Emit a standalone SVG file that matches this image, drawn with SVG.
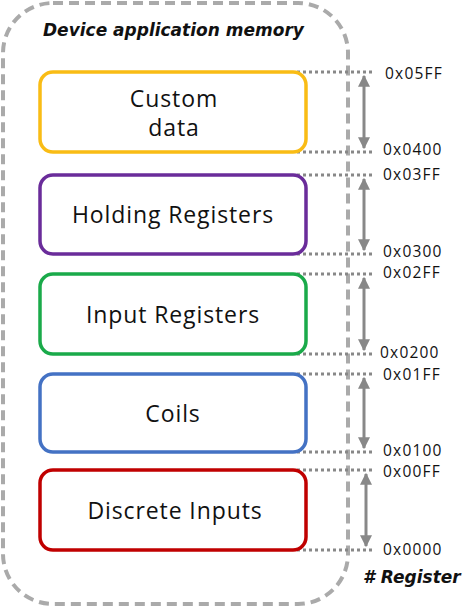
<svg xmlns="http://www.w3.org/2000/svg" width="474" height="608" viewBox="0 0 474 608">
<style>
.box{fill:#fff;stroke-width:3.5}
.lbl{font-family:"Open Sans","DejaVu Sans",sans-serif;font-size:23px;letter-spacing:0.9px;fill:#111;text-anchor:middle;dominant-baseline:central}
.addr{font-family:"Open Sans","DejaVu Sans",sans-serif;font-size:15.5px;letter-spacing:1.2px;fill:#111;dominant-baseline:central}
.bi{font-family:"DejaVu Sans",sans-serif;font-weight:bold;font-style:italic;font-size:17px;fill:#111;dominant-baseline:central}
.dot{stroke:#888;stroke-width:3;stroke-dasharray:3 3;fill:none}
.arr{stroke:#888;stroke-width:3;fill:none;marker-start:url(#ah);marker-end:url(#ah)}
</style>
<defs>
<marker id="ah" viewBox="0 0 10 10" refX="9" refY="5" markerWidth="4" markerHeight="4" orient="auto-start-reverse" markerUnits="strokeWidth">
<path d="M0,0 L10,5 L0,10 z" fill="#888"/>
</marker>
</defs>
<rect id="container" x="3" y="3" width="345" height="601" rx="50" ry="50" fill="none" stroke="#aaa" stroke-width="4" stroke-dasharray="10 6"/>
<text class="bi" x="43" y="30">Device application memory</text>
<g id="connectors">
<line class="dot" x1="297" y1="72" x2="372" y2="72"/>
<line class="dot" x1="297" y1="152" x2="372" y2="152"/>
<line class="arr" x1="364" y1="76" x2="364" y2="148"/>
<line class="dot" x1="297" y1="175" x2="372" y2="175"/>
<line class="dot" x1="297" y1="254" x2="372" y2="254"/>
<line class="arr" x1="364" y1="179" x2="364" y2="250"/>
<line class="dot" x1="297" y1="274" x2="372" y2="274"/>
<line class="dot" x1="297" y1="354" x2="372" y2="354"/>
<line class="arr" x1="364" y1="278" x2="364" y2="350"/>
<line class="dot" x1="297" y1="374" x2="372" y2="374"/>
<line class="dot" x1="297" y1="452" x2="372" y2="452"/>
<line class="arr" x1="364" y1="378" x2="364" y2="448"/>
<line class="dot" x1="297" y1="470" x2="372" y2="470"/>
<line class="dot" x1="297" y1="550" x2="372" y2="550"/>
<line class="arr" x1="366" y1="474" x2="366" y2="546"/>
</g>
<g id="custom">
<rect class="box" x="40" y="72" width="266" height="80" rx="13" stroke="#f9bc15"/>
<text class="lbl" x="174" y="98">Custom</text>
<text class="lbl" x="174" y="127">data</text>
</g>
<g id="holding">
<rect class="box" x="40" y="175" width="266" height="79" rx="13" stroke="#6a2c9a"/>
<text class="lbl" x="173" y="214">Holding Registers</text>
</g>
<g id="input">
<rect class="box" x="40" y="274" width="266" height="80" rx="13" stroke="#1aaa4a"/>
<text class="lbl" x="173" y="314">Input Registers</text>
</g>
<g id="coils">
<rect class="box" x="40" y="374" width="266" height="78" rx="13" stroke="#4472c4"/>
<text class="lbl" x="173" y="413">Coils</text>
</g>
<g id="discrete">
<rect class="box" x="40" y="470" width="266" height="80" rx="13" stroke="#c00000"/>
<text class="lbl" x="175" y="510">Discrete Inputs</text>
</g>
<g id="addresses">
<text class="addr" x="385" y="73">0x05FF</text>
<text class="addr" x="383" y="149">0x0400</text>
<text class="addr" x="383" y="174">0x03FF</text>
<text class="addr" x="383" y="251">0x0300</text>
<text class="addr" x="383" y="272">0x02FF</text>
<text class="addr" x="380" y="352">0x0200</text>
<text class="addr" x="383" y="374">0x01FF</text>
<text class="addr" x="383" y="450">0x0100</text>
<text class="addr" x="383" y="471">0x00FF</text>
<text class="addr" x="383" y="549">0x0000</text>
</g>
<text class="bi" x="363" y="577">#&#160;Register</text>
</svg>
